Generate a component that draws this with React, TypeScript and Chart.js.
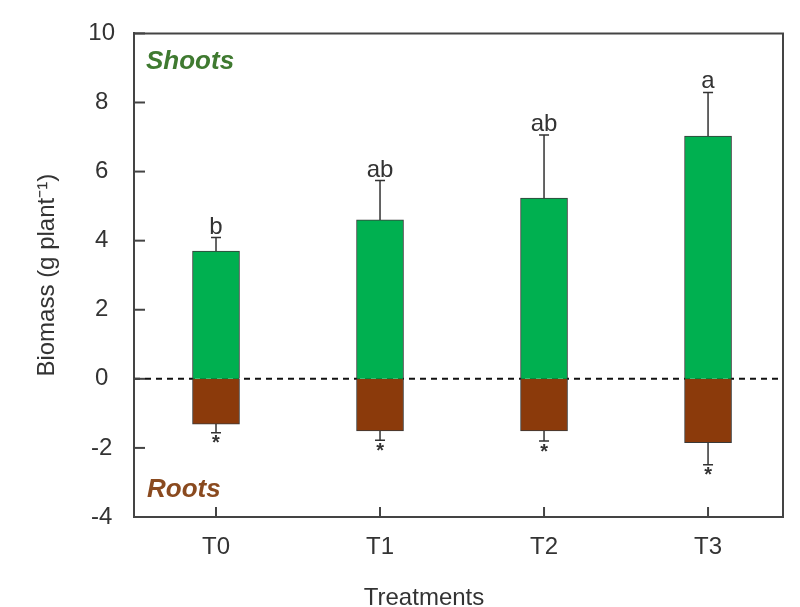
import React, { useEffect, useRef } from "react";
import { Chart, registerables } from "chart.js";

Chart.register(...registerables);

const categories = ["T0", "T1", "T2", "T3"];
const shoots = [3.7, 4.6, 5.23, 7.03];
const shootErr = [0.39, 1.14, 1.83, 1.26];
const roots = [-1.31, -1.51, -1.51, -1.85];
const rootErr = [0.25, 0.27, 0.29, 0.64];
const shootLetters = ["b", "ab", "ab", "a"];
const rootMarks = ["*", "*", "*", "*"];
const yTickValues = [-4, -2, 0, 2, 4, 6, 8, 10];

const FONT = "'Liberation Sans', Arial, sans-serif";
const TEXT = "#333333";
const AXIS = "#444444";

const decorPlugin = {
  id: "decor",
  beforeDatasetsDraw(chart: any) {
    const { ctx, chartArea, scales } = chart;
    const y0 = scales.y.getPixelForValue(0);
    ctx.save();
    ctx.strokeStyle = "#111";
    ctx.lineWidth = 2;
    ctx.setLineDash([6, 5]);
    ctx.beginPath();
    ctx.moveTo(chartArea.left, y0);
    ctx.lineTo(chartArea.right, y0);
    ctx.stroke();
    ctx.restore();
  },
  afterDatasetsDraw(chart: any) {
    const { ctx, chartArea, scales } = chart;
    const xs = scales.x;
    const ys = scales.y;
    ctx.save();
    // frame top & right
    ctx.strokeStyle = AXIS;
    ctx.lineWidth = 2;
    ctx.beginPath();
    ctx.moveTo(chartArea.left, chartArea.top);
    ctx.lineTo(chartArea.right, chartArea.top);
    ctx.lineTo(chartArea.right, chartArea.bottom);
    ctx.stroke();
    // inward ticks
    ctx.lineWidth = 2;
    yTickValues.forEach((v) => {
      const py = ys.getPixelForValue(v);
      ctx.beginPath();
      ctx.moveTo(chartArea.left, py);
      ctx.lineTo(chartArea.left + 11, py);
      ctx.stroke();
    });
    categories.forEach((_, i) => {
      const px = xs.getPixelForValue(i);
      ctx.beginPath();
      ctx.moveTo(px, chartArea.bottom);
      ctx.lineTo(px, chartArea.bottom - 10);
      ctx.stroke();
    });
    // error bars
    ctx.strokeStyle = "#333";
    ctx.lineWidth = 1.5;
    ctx.fillStyle = TEXT;
    categories.forEach((_, i) => {
      const px = xs.getPixelForValue(i);
      const sTop = ys.getPixelForValue(shoots[i]);
      const sErr = ys.getPixelForValue(shoots[i] + shootErr[i]);
      ctx.beginPath();
      ctx.moveTo(px, sTop);
      ctx.lineTo(px, sErr);
      ctx.moveTo(px - 5, sErr);
      ctx.lineTo(px + 5, sErr);
      ctx.stroke();
      ctx.font = `24px ${FONT}`;
      ctx.textAlign = "center";
      ctx.textBaseline = "alphabetic";
      ctx.fillText(shootLetters[i], px, sErr - 4);

      const rBot = ys.getPixelForValue(roots[i]);
      const rErr = ys.getPixelForValue(roots[i] - rootErr[i]);
      ctx.beginPath();
      ctx.moveTo(px, rBot);
      ctx.lineTo(px, rErr);
      ctx.moveTo(px - 5, rErr);
      ctx.lineTo(px + 5, rErr);
      ctx.stroke();
      ctx.font = `bold 20px ${FONT}`;
      ctx.textBaseline = "top";
      ctx.fillText(rootMarks[i], px, rErr + 1);
    });
    // panel labels
    ctx.textAlign = "left";
    ctx.textBaseline = "alphabetic";
    ctx.font = `italic bold 26px ${FONT}`;
    ctx.fillStyle = "#3f7a30";
    ctx.fillText("Shoots", chartArea.left + 12, chartArea.top + 36);
    ctx.fillStyle = "#8a4a1f";
    ctx.fillText("Roots", chartArea.left + 13, ys.getPixelForValue(-4) - 20);
    // x title
    ctx.fillStyle = TEXT;
    ctx.font = `24px ${FONT}`;
    ctx.textAlign = "center";
    ctx.textBaseline = "middle";
    ctx.fillText("Treatments", 424, 598);
    ctx.restore();
  },
};

export default function App() {
  const ref = useRef<HTMLCanvasElement | null>(null);
  useEffect(() => {
    if (!ref.current) return;
    const chart = new Chart(ref.current, {
      type: "bar",
      data: {
        datasets: [
          {
            label: "Shoots",
            data: shoots.map((v, i) => ({ x: i, y: v })),
            backgroundColor: "#00b050",
            borderColor: "#3a3a3a",
            borderWidth: 1,
            barThickness: 47,
            grouped: false,
          } as any,
          {
            label: "Roots",
            data: roots.map((v, i) => ({ x: i, y: v })),
            backgroundColor: "#8b3a0b",
            borderColor: "#3a3a3a",
            borderWidth: 1,
            barThickness: 47,
            grouped: false,
          } as any,
        ],
      },
      plugins: [decorPlugin],
      options: {
        animation: false,
        responsive: false,
        maintainAspectRatio: false,
        layout: { padding: { top: 27, right: 17, left: 0, bottom: 0 } },
        plugins: { legend: { display: false }, tooltip: { enabled: false } },
        scales: {
          x: {
            type: "linear",
            offset: false,
            min: -0.5,
            max: 3.457,
            grid: { display: false, drawTicks: false, offset: false },
            border: { display: true, color: AXIS, width: 2 },
            afterBuildTicks: (axis: any) => {
              axis.ticks = categories.map((_, i) => ({ value: i }));
            },
            afterFit: (axis: any) => {
              axis.height = 90;
            },
            ticks: {
              padding: 16,
              color: TEXT,
              font: { size: 24, family: FONT },
              callback: (v: any) => categories[v as number] ?? "",
            },
          },
          y: {
            min: -4,
            max: 10,
            afterBuildTicks: (axis: any) => {
              axis.ticks = yTickValues.map((v) => ({ value: v }));
            },
            afterFit: (axis: any) => {
              axis.width = 134;
            },
            grid: { display: false, drawTicks: false },
            border: { display: true, color: AXIS, width: 2 },
            ticks: {
              padding: 19,
              crossAlign: "center",
              color: TEXT,
              font: { size: 24, family: FONT },
            },
            title: {
              display: true,
              text: "Biomass (g plant⁻¹)",
              color: TEXT,
              font: { size: 24, family: FONT },
              padding: { top: 33, bottom: 0 },
            },
          },
        },
      } as any,
    });
    return () => chart.destroy();
  }, []);
  return (
    <div style={{ position: "fixed", left: 0, top: 0, width: 800, height: 607, background: "#fff" }}>
      <canvas ref={ref} width={800} height={607} style={{ display: "block" }} />
    </div>
  );
}
